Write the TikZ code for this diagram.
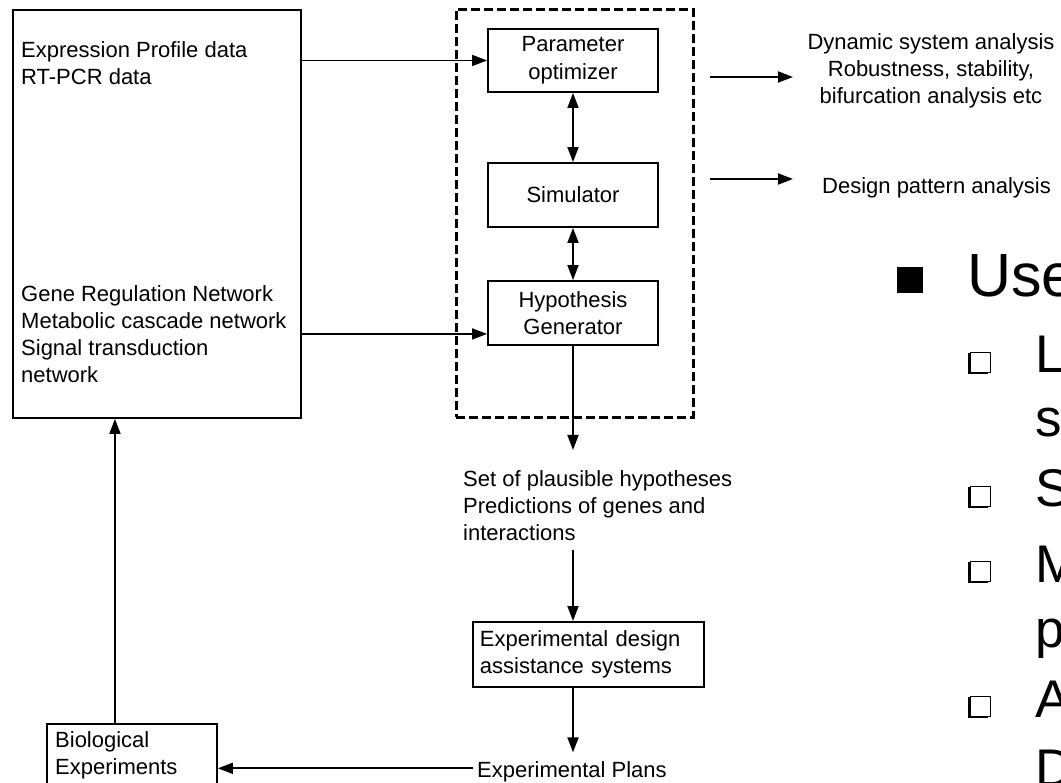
\documentclass[tikz,border=0pt]{standalone}
\usepackage{fontspec}
\setmainfont{Liberation Sans}
\usetikzlibrary{arrows.meta,calc}
\begin{document}
\begin{tikzpicture}[x=1pt,y=-1pt,
  box/.style={draw, line width=1.9pt, inner sep=0pt},
  txt/.style={inner sep=0pt, align=left, font=\fontsize{22}{27}\selectfont},
  txtone/.style={inner sep=0pt, font=\fontsize{22}{27}\selectfont},
  arr/.style={line width=1.8pt, -{Triangle[length=15pt,width=11pt]}},
  dbl/.style={line width=1.8pt, {Triangle[length=15pt,width=11pt]}-{Triangle[length=15pt,width=11pt]}},
  grpbox/.style={draw, line width=2.8pt, dash pattern=on 9pt off 4pt, inner sep=0pt},
  bigtxt/.style={inner sep=0pt, font=\fontsize{61}{70}\selectfont},
  subtxt/.style={inner sep=0pt, font=\fontsize{53}{66}\selectfont}]
\useasboundingbox (0,0) rectangle (1061,783);
\clip (0,0) rectangle (1061,783);

% left source box
\node[box, minimum width=288, minimum height=408, anchor=north west] (src) at (12,9) {};
\node[txt, anchor=west] (srcta) at (21,63) {Expression Profile data\\RT-PCR data};
\node[txt, anchor=west] (srctb) at (21,334) {Gene Regulation Network\\Metabolic cascade network\\Signal transduction\\network};

% dashed group and inner boxes
\node[grpbox, minimum width=237, minimum height=408, anchor=north west] (grp) at (455,8) {};
\node[box, minimum width=170, minimum height=63, align=center, font=\fontsize{22}{28}\selectfont] (param) at (573,60.5) {Parameter\\optimizer};
\node[box, minimum width=170, minimum height=64, font=\fontsize{22}{27}\selectfont] (sim) at (573,195) {Simulator};
\node[box, minimum width=170, minimum height=64, align=center, font=\fontsize{22}{27}\selectfont] (hyp) at (573,313) {Hypothesis\\Generator};

\draw[arr] (src.east |- param.west) -- (param.west);
\coordinate (hin) at ($(hyp.south west)+(0,-12)$);
\draw[arr] (src.east |- hin) -- (hin);
\draw[dbl] (param.south) -- (sim.north);
\draw[dbl] (sim.south) -- (hyp.north);

% outputs on the right
\coordinate (oas) at (710,77);
\coordinate (oae) at (793,77);
\coordinate (obs) at (710,179);
\coordinate (obe) at (793,179);
\draw[arr] (oas) -- (oae);
\draw[arr] (obs) -- (obe);
\node[txt, align=center] (dyn) at (931,71) {Dynamic system analysis\\Robustness, stability,\\bifurcation analysis etc};
\node[txtone, anchor=west] (dpa) at (822,188) {Design pattern analysis};

% lower chain
\node[txt, anchor=north west] (hyps) at (463,470) {Set of plausible hypotheses\\Predictions of genes and\\interactions};
\draw[arr] (hyp.south) -- ([yshift=20pt]hyp.south |- hyps.north);
\node[box, anchor=north west, minimum width=231, minimum height=65, text width=217, inner xsep=7pt, align=left, font=\fontsize{22}{27}\selectfont] (exp) at (472,621) {Experimental design\\assistance systems};
\draw[arr] ([yshift=-9pt]hyp.south |- hyps.south) -- (hyp.south |- exp.north);
\node[txtone, anchor=base west] (plans) at (477,777.5) {Experimental Plans};
\draw[arr] (hyp.south |- exp.south) -- ([yshift=9pt]hyp.south |- plans.north);

\node[box, anchor=north west, minimum width=170, minimum height=90] (bio) at (46,723) {};
\node[txt, anchor=west] (biot) at (55,755) {Biological\\Experiments};
\coordinate (pw) at ([xshift=-4pt,yshift=3.5pt]plans.west);
\draw[arr] (pw) -- (bio.east |- pw);
\coordinate (bup) at ([xshift=-17pt]bio.north);
\draw[arr] (bup) -- (src.south -| bup);

% slide text on the right
\fill (897,267) rectangle (923,293);
\node[bigtxt, anchor=base west] (use) at (967,297) {Use};
\foreach \b in {373,507,582,717}{
  \draw[line width=0.9pt] (970,{\b-21}) rectangle (990,{\b-1});
  \draw[line width=2.4pt] (969,{\b-20}) -- (969,{\b}) -- (988,{\b});
}
\node[subtxt, anchor=base west] (sla) at (1035,373) {L};
\node[subtxt, anchor=base west] (slb) at (1035,437) {s};
\node[subtxt, anchor=base west] (slc) at (1035,507) {S};
\node[subtxt, anchor=base west] (sld) at (1035,582) {M};
\node[subtxt, anchor=base west] (sle) at (1035,647) {p};
\node[subtxt, anchor=base west] (slf) at (1035,717) {A};
\node[subtxt, anchor=base west] (slg) at (1035,786) {D};
\end{tikzpicture}
\end{document}
